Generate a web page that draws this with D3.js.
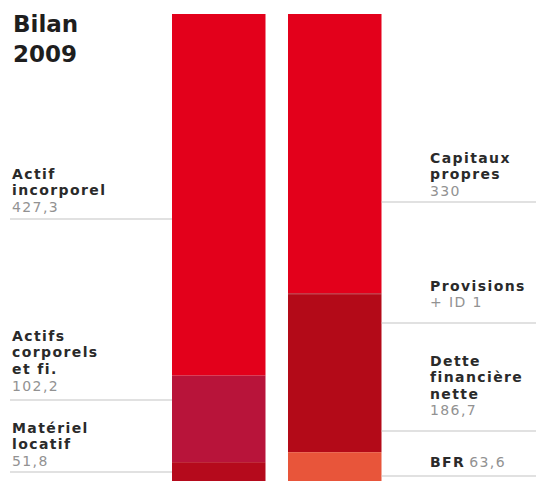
<!DOCTYPE html>
<html>
<head>
<meta charset="utf-8">
<script src="https://cdn.jsdelivr.net/npm/d3@7"></script>
<style>
  html, body { margin: 0; padding: 0; background: #fff; }
  svg { display: block; }
  text { font-family: "DejaVu Sans", sans-serif; }
</style>
</head>
<body>
<script>
// ---- data ----
const title = ["Bilan", "2009"];
const columns = ["Actif", "Passif"];
const actifLabels = [["Actif", "incorporel"], ["Actifs", "corporels", "et fi."], ["Matériel", "locatif"]];
const actifValues = [427.3, 102.2, 51.8];
const actifValueText = ["427,3", "102,2", "51,8"];
const passifLabels = [["Capitaux", "propres"], ["Provisions"], ["Dette", "financière", "nette"], ["BFR"]];
const passifValues = [330, 1, 186.7, 63.6];
const passifValueText = ["330", "+ ID 1", "186,7", "63,6"];
const actifColors = ["#e3001b", "#b8143a", "#b50a1c"];
const passifColors = ["#e3001b", "#b00a18", "#b30a18", "#e8553a"];

// ---- layout ----
const W = 536, H = 481;
const svg = d3.select("body").append("svg").attr("width", W).attr("height", H);

const total = d3.sum(actifValues);
const x = d3.scaleBand().domain(columns).range([172, 381.5]).paddingInner(0.194);
const y = d3.scaleLinear().domain([0, total]).range([14, 506]);

function stack(vals) {
  let acc = 0;
  return vals.map(v => { const s = acc; acc += v; return { y0: s, y1: acc, v }; });
}

const cols = [
  { key: "Actif", segs: stack(actifValues), colors: actifColors },
  { key: "Passif", segs: stack(passifValues), colors: passifColors }
];

cols.forEach(c => {
  svg.append("g").selectAll("rect").data(c.segs).join("rect")
    .attr("x", x(c.key))
    .attr("width", x.bandwidth())
    .attr("y", d => y(d.y0))
    .attr("height", d => y(d.y1) - y(d.y0))
    .attr("fill", (d, i) => c.colors[i]);
});

// title
svg.append("g").selectAll("text").data(title).join("text")
  .attr("x", 13).attr("y", (d, i) => 32 + i * 30)
  .attr("font-size", 23).attr("font-weight", "bold").attr("fill", "#1e1e1e")
  .text(d => d);

const FS = 14, LS = 1.4, LH = 16.4;
const darkTxt = "#2a2a2a", greyTxt = "#929292", ruleCol = "#c4c4c4";

// left labels: [first baseline, rule y]
const actifPos = [[179, 219], [341, 400], [433, 472]];
actifLabels.forEach((lines, i) => {
  const [b0, ry] = actifPos[i];
  const g = svg.append("g");
  const t = g.append("text").attr("x", 12).attr("font-size", FS).attr("letter-spacing", LS);
  lines.forEach((l, j) => {
    t.append("tspan").attr("x", 12).attr("y", b0 + j * LH)
      .attr("font-weight", "bold").attr("fill", darkTxt).text(l);
  });
  t.append("tspan").attr("x", 12).attr("y", b0 + lines.length * LH + 0.5)
    .attr("fill", greyTxt).text(actifValueText[i]);
  g.append("line").attr("x1", 10).attr("x2", x("Actif")).attr("y1", ry).attr("y2", ry)
    .attr("stroke", ruleCol).attr("stroke-width", 1.2);
});

// right labels
const passifPos = [[163, 202], [291, 323], [366, 431], [467, 476]];
const rx = 430;
passifLabels.forEach((lines, i) => {
  const [b0, ry] = passifPos[i];
  const g = svg.append("g");
  const t = g.append("text").attr("x", rx).attr("font-size", FS).attr("letter-spacing", LS);
  lines.forEach((l, j) => {
    t.append("tspan").attr("x", rx).attr("y", b0 + j * LH)
      .attr("font-weight", "bold").attr("fill", darkTxt).text(l);
  });
  if (i === 3) {
    t.append("tspan").attr("dx", 4).attr("fill", greyTxt).text(passifValueText[i]);
  } else {
    t.append("tspan").attr("x", rx).attr("y", b0 + lines.length * LH)
      .attr("fill", greyTxt).text(passifValueText[i]);
  }
  g.append("line").attr("x1", x("Passif") + x.bandwidth()).attr("x2", W)
    .attr("y1", ry).attr("y2", ry)
    .attr("stroke", ruleCol).attr("stroke-width", 1.2);
});
</script>
</body>
</html>
